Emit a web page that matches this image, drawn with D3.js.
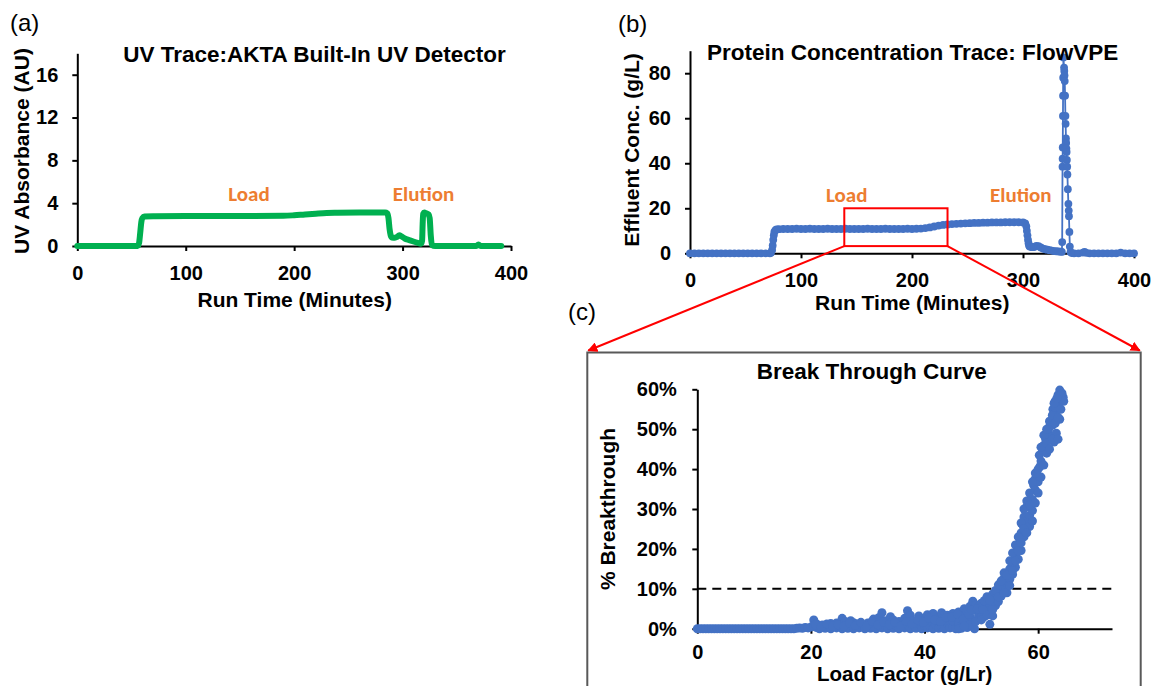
<!DOCTYPE html>
<html><head><meta charset="utf-8">
<script src="https://cdn.jsdelivr.net/npm/d3@7"></script>
<style>
body{margin:0;background:#fff}
svg{display:block}
text{font-family:"Liberation Sans",Arial,sans-serif;fill:#000}
</style>
</head><body>
<svg id="chart" width="1151" height="686"></svg>
<script>
// ---------- DATA ----------
// (a) UV trace
const uvTime = [0,20,40,54,56,57,58,59,60,62,70,100,150,190,200,210,220,230,240,260,284,286,287,288,289,290,293,295,297,299,302,306,310,314,317,318,318.5,319,320,322,324,325,326,327,330,350,368,370,372,391];
const uvAbs  = [0,0,0,0,0.05,0.3,1.2,2.2,2.6,2.75,2.78,2.8,2.8,2.82,2.87,2.95,3.02,3.08,3.1,3.12,3.12,3.05,2.6,1.6,1.0,0.8,0.78,0.85,1.0,0.9,0.7,0.55,0.42,0.3,0.22,0.5,2.0,3.0,3.12,3.05,2.95,2.6,1.0,0.1,0,0,0,0.15,0,0];

// (b) FlowVPE concentration trace
const concTime = [0,4,8,12,16,20,24,28,32,36,40,44,48,52,56,60,64,68,72,
  73,74,74.5,75,75.5,76,77,78,80,84,
  88,92,96,100,104,108,112,116,120,124,128,132,136,140,144,148,152,156,160,164,168,172,176,180,184,188,192,196,200,204,
  208,212,216,220,224,228,232,236,240,244,248,252,256,260,264,268,272,276,280,284,288,292,296,300,
  302,303,303.5,304,304.5,305,305.5,306,308,310,312,314,316,318,320,322,324,326,328,330,332,334,
  335,335.3,335.6,335.7,335.8,336,336.1,336.2,336.4,
  337,337.2,337.4,337.6,337.9,338.2,338.4,338.7,338.9,339.1,339.3,339.5,339.8,340,340.4,340.9,341.2,341.4,341.8,342.2,342.8,
  344,346,350,354,355.5,357,360,364,368,372,376,380,384,388,392,396,400];
const concVal = [0,0,0,0,0,0,0,0,0,0,0,0,0,0,0,0,0,0,0,
  0.3,1.5,3.5,6,8,9.5,10.3,10.6,10.7,10.8,
  10.8,10.8,10.9,10.8,10.8,10.9,10.8,10.8,10.8,10.9,10.8,10.8,10.8,10.9,10.8,10.8,10.8,10.8,10.9,10.8,10.8,10.8,10.9,10.8,10.8,10.8,10.8,10.9,10.8,10.9,
  11.0,11.2,11.5,11.9,12.3,12.6,12.8,13.0,13.1,13.2,13.3,13.4,13.5,13.5,13.6,13.6,13.7,13.7,13.7,13.8,13.8,13.8,13.8,13.7,
  13.3,12,10,8,6,4.5,3.5,3.0,2.7,2.8,3.3,3.2,2.6,2.1,1.8,1.6,1.4,1.2,1.0,0.9,0.8,0.7,
  0.6,5,38.5,42,47,61,70,78,87,
  82.5,81,79,76.5,70,61,57.5,51,49,46.5,45,41.5,38.5,35,28.5,22,19,16.5,9.5,3,0.5,
  0.1,0,0,0.3,0.6,0.2,0,0,0,0,0,0,0,0.3,0,0,0];

// zoom window on (b)
const zoomTime = [139, 232];
const zoomConc = [3.2, 20];

// (c) Break through curve
const loadFactor = [0,0.5,1,1.5,2,2.5,3,3.5,4,4.5,5,5.5,6,6.5,7,7.5,8,8.5,9,9.5,10,10.5,11,11.5,12,12.5,13,13.5,14,14.5,15,15.5,16,16.5,17,
  17.5,18,18.5,19,19.5,20,
  20.5,20.5,21,21,21.5,21.5,22,22.5,22.5,23,23.5,23.5,24,24.5,24.5,25,25.5,25.5,25.5,26,26,26.5,26.5,27,27.5,27.5,27.5,28,28.5,28.5,29,29.5,29.5,30,30.5,30.5,
  31,31,31.5,31.5,32,32.5,32.5,32.5,33,33.5,33.5,34,34,34.5,34.5,35,35.5,35.5,36,36.5,36.5,37,37,37.5,37.5,38,38.5,38.5,39,39,39.5,39.5,
  40,40,40.5,40.5,40.5,41,41,41.5,41.5,41.5,42,42,42.5,42.5,42.5,43,43,43.5,43.5,43.5,44,44,44,44.5,44.5,44.5,45,45,45,45.5,45.5,46,46,46,46.5,46.5,46.5,
  47,47,47.5,47.5,47.5,48,48,48.5,48.5,48.8,49,49,49.5,49.5,50,50,50.5,50.5,51,51,51.5,51.5,52,52,52.5,52.5,53,53,53.5,53.5,54,54,54.5,54.5,55,55,55.5,55.5,
  56,56,56.3,56.5,56.8,57,57,57.3,57.5,57.5,58,58,58.5,58.5,59,59,59.2,59.5,59.5,59.8,60,60.2,60.3,60.5,60.8,61,61.3,61.5,61.8,62,62.2,62.5,62.6,62.8,
  63,63,63.2,63.5,63.5,63.8,63.8,64,64.2,64.4,
  20.8,21.8,22.8,23.8,24.8,25.8,26.8,27.8,28.8,29.8,30.8,31.8,32.8,33.8,34.8,35.8,36.8,37.8,38.8,39.8,40.8,41.8,42.8,43.8,44.8,45.8,46.8,47.8,48.3,49.3,49.8,50.3,48,49,50,51,52,46,47,
  50.5,51,51.5,52,52.5,53,53,53.5,54,54,54.5,55,55,55.5,55.5,56,56,56.5,56.5,57,57,57.5,57.5,58,58,58.5,58.5,59,59,59.5,59.5,60,60,60.5,60.5,61,61,61.5,61.5,62,62,62.5,62.5,63,63,63.5,63.5,64,64,64.5,62.8,63.3];
const breakthroughPct = [0,0,0,0,0,0,0,0,0,0,0,0,0,0,0,0,0,0,0,0,0,0,0,0,0,0,0,0,0,0,0,0,0,0,0,
  0.1,0.2,0.1,0.3,0.2,0.4,
  2.2,0.8,1.2,0.3,0.6,0,0.9,0.4,0.1,1.0,1.3,0,0.5,1.4,0.2,0.8,2.6,1.2,0,1.8,0.4,1.0,0.1,2.0,1.5,0.5,0,1.2,0.6,0.2,1.0,0.3,0,1.4,0.8,0.1,
  2.4,0.5,1.2,0,2.8,4.0,1.0,0.2,2.0,0.6,0,3.0,1.4,2.2,0.1,0.8,1.8,0,1.2,2.6,0.2,4.5,1.0,3.4,0,2.0,0.6,0.1,3.2,1.4,2.4,0,
  0.8,2.2,3.5,1.6,0.2,2.8,0.4,3.8,1.4,0,2.0,1.0,3.0,2.4,0.1,4.0,0.6,2.4,3.4,0,1.2,3.4,2.0,2.0,1.0,0.2,0.5,3.8,2.0,2.8,0,1.4,4.2,2.6,0.6,3.4,0.1,
  5.0,2.2,1.6,4.4,0.3,5.6,3.0,6.9,2.0,0,4.6,6.0,3.2,5.4,6.4,4.0,5.2,3.0,6.0,4.6,1.1,5.6,8.7,6.6,5.8,7.6,9.5,6.8,10.2,8.2,12.6,10.0,11.5,9.0,15.0,12.4,13.6,16.4,
  18.0,15.4,20.0,17.4,22.0,24.0,19.6,26.0,28.0,23.0,30.6,27.0,28.4,25.6,32.4,29.6,36.0,37.6,34.8,38.4,36.8,43.5,40.6,38.0,44.8,46.0,47.6,44.0,49.6,50.6,48.0,51.0,55.0,46.8,
  57.0,54.0,49.0,58.6,56.0,59.8,52.5,57.6,59.0,58.0,
  1.0,0.4,1.2,0.6,1.0,0.6,1.4,0.8,1.6,0.6,1.8,1.0,1.6,1.0,1.6,0.6,1.8,1.2,2.2,1.6,2.6,2.2,1.8,2.8,3.0,3.6,2.4,3.6,4.6,5.0,2.6,4.8,1.0,1.8,2.2,3.4,3.2,0,0.6,
  7.0,8.0,7.2,4.8,9.6,11.0,8.0,12.0,9.0,14.0,13.4,10.8,17.0,19.0,14.6,21.0,17.0,23.0,19.5,21.5,26.5,25.0,30.0,32.0,24.0,31.0,34.0,36.8,27.0,39.0,31.5,40.0,34.0,42.0,45.5,41.0,48.5,46.5,50.0,45.0,52.0,47.5,53.5,51.5,55.5,47.5,53.0,55.0,58.6,57.0,56.5,57.8];
const thresholdPct = 10;

// ticks
const timeTicks = [0,100,200,300,400];
const uvTicks = [0,4,8,12,16];
const concTicks = [0,20,40,60,80];
const pctTicks = [0,10,20,30,40,50,60];
const lfTicks = [0,20,40,60];

// ---------- DRAW ----------
const svg = d3.select("#chart");
const GREEN = "#00B050", BLUE = "#4472C4", ORANGE = "#ED7D31", RED = "#FF0000";

svg.append("defs").append("marker")
  .attr("id","arr").attr("viewBox","0 0 10 10").attr("refX",9).attr("refY",5)
  .attr("markerWidth",10).attr("markerHeight",10).attr("markerUnits","userSpaceOnUse")
  .attr("orient","auto")
  .append("path").attr("d","M0,0 L10,5 L0,10 z").attr("fill",RED);

function styleAxis(g, fs) {
  g.select(".domain").attr("stroke","#000").attr("stroke-width",2);
  g.selectAll(".tick line").attr("stroke","#000").attr("stroke-width",2);
  g.selectAll(".tick text").attr("font-size",fs).attr("font-weight","bold").attr("fill","#000")
    .style("font-family","'Liberation Sans',Arial,sans-serif");
}
function drawAxes(x, y, xt, yt, yfmt, ypad, xpad) {
  const gx = svg.append("g").attr("transform",`translate(0,${y.range()[0]})`)
    .call(d3.axisBottom(x).tickValues(xt).tickSize(5).tickSizeOuter(0).tickPadding(xpad).tickFormat(d3.format("d")));
  styleAxis(gx, 20);
  const gy = svg.append("g").attr("transform",`translate(${x.range()[0]},0)`)
    .call(d3.axisLeft(y).tickValues(yt).tickSize(5).tickSizeOuter(0).tickPadding(ypad).tickFormat(yfmt));
  styleAxis(gy, 20);
}
function label(txt, x, y, size, opts={}) {
  const t = svg.append("text").attr("x",x).attr("y",y).attr("font-size",size)
    .attr("text-anchor",opts.anchor||"middle").attr("font-weight",opts.weight||"bold").text(txt);
  if (opts.rotate) t.attr("transform",`rotate(-90,${x},${y})`);
  if (opts.fill) t.attr("fill",opts.fill).style("fill",opts.fill);
  if (opts.family) t.style("font-family",opts.family);
  return t;
}
const calibri = "Carlito,Lato,'Open Sans',sans-serif";

// ----- panel (a) -----
const xA = d3.scaleLinear().domain([0,400]).range([77.3,511]);
const yA = d3.scaleLinear().domain([0,18]).range([246,53.3]);
drawAxes(xA, yA, timeTicks, uvTicks, d3.format("d"), 14, 14.5);
svg.append("path").datum(d3.range(uvTime.length))
  .attr("fill","none").attr("stroke",GREEN).attr("stroke-width",6)
  .attr("stroke-linejoin","round").attr("stroke-linecap","round")
  .attr("d", d3.line().x(i=>xA(uvTime[i])).y(i=>yA(uvAbs[i])).curve(d3.curveMonotoneX));
label("(a)", 10, 31, 24, {anchor:"start", weight:"normal"});
label("UV Trace:AKTA Built-In UV Detector", 314.5, 61.5, 22.5);
label("Run Time (Minutes)", 294.7, 307, 21);
label("UV Absorbance (AU)", 28.5, 151, 21, {rotate:true});
label("Load", 249, 201, 21, {fill:ORANGE, family:calibri});
label("Elution", 423.5, 201, 21, {fill:ORANGE, family:calibri});

// ----- panel (b) -----
const xB = d3.scaleLinear().domain([0,400]).range([690,1134]);
const yB = d3.scaleLinear().domain([0,90]).range([253.3,50.7]);
drawAxes(xB, yB, timeTicks, concTicks, d3.format("d"), 14, 14.5);
const idxB = d3.range(concTime.length);
svg.append("path").datum(idxB)
  .attr("fill","none").attr("stroke",BLUE).attr("stroke-width",1.8)
  .attr("d", d3.line().x(i=>xB(concTime[i])).y(i=>yB(concVal[i])));
svg.append("g").selectAll("circle").data(idxB).join("circle")
  .attr("cx",i=>xB(concTime[i])).attr("cy",i=>yB(concVal[i])).attr("r",3.9).attr("fill",BLUE);
label("(b)", 618, 31.7, 24, {anchor:"start", weight:"normal"});
label("Protein Concentration Trace: FlowVPE", 912.7, 60, 22.5);
label("Run Time (Minutes)", 912.2, 310, 21);
label("Effluent Conc. (g/L)", 639, 150, 21, {rotate:true});
label("Load", 846.7, 201.7, 21, {fill:ORANGE, family:calibri});
label("Elution", 1020.8, 201.7, 21, {fill:ORANGE, family:calibri});
svg.append("rect")
  .attr("x",xB(zoomTime[0])).attr("y",yB(zoomConc[1]))
  .attr("width",xB(zoomTime[1])-xB(zoomTime[0])).attr("height",yB(zoomConc[0])-yB(zoomConc[1]))
  .attr("fill","none").attr("stroke",RED).attr("stroke-width",2);

// ----- panel (c) -----
const boxL = 587.3, boxT = 352.5, boxR = 1140.7;
svg.append("rect").attr("x",boxL).attr("y",boxT).attr("width",boxR-boxL).attr("height",345)
  .attr("fill","#fff").attr("stroke","#595959").attr("stroke-width",2);
label("(c)", 568, 320, 24, {anchor:"start", weight:"normal"});

const xC = d3.scaleLinear().domain([0,73]).range([697.3,1112]);
const yC = d3.scaleLinear().domain([0,60]).range([628.7,389.3]);
drawAxes(xC, yC, lfTicks, pctTicks, d=>d+"%", 15.5, 11);
svg.append("line").attr("x1",xC(0)).attr("x2",xC(73)).attr("y1",yC(thresholdPct)).attr("y2",yC(thresholdPct))
  .attr("stroke","#000").attr("stroke-width",2).attr("stroke-dasharray","9,6");
svg.append("g").selectAll("circle").data(d3.range(loadFactor.length)).join("circle")
  .attr("cx",i=>xC(loadFactor[i])).attr("cy",i=>yC(breakthroughPct[i])).attr("r",4.5).attr("fill",BLUE);
label("Break Through Curve", 871.7, 379, 22.5);
label("Load Factor (g/Lr)", 904.7, 681.3, 20.5);
label("% Breakthrough", 615, 509, 21, {rotate:true});

// connector arrows from zoom window to panel (c)
svg.append("line").attr("x1",xB(zoomTime[0])).attr("y1",yB(zoomConc[0])).attr("x2",boxL+1).attr("y2",boxT-2)
  .attr("stroke",RED).attr("stroke-width",2).attr("marker-end","url(#arr)");
svg.append("line").attr("x1",xB(zoomTime[1])).attr("y1",yB(zoomConc[0])).attr("x2",boxR-1).attr("y2",boxT-2)
  .attr("stroke",RED).attr("stroke-width",2).attr("marker-end","url(#arr)");
</script>
</body></html>
